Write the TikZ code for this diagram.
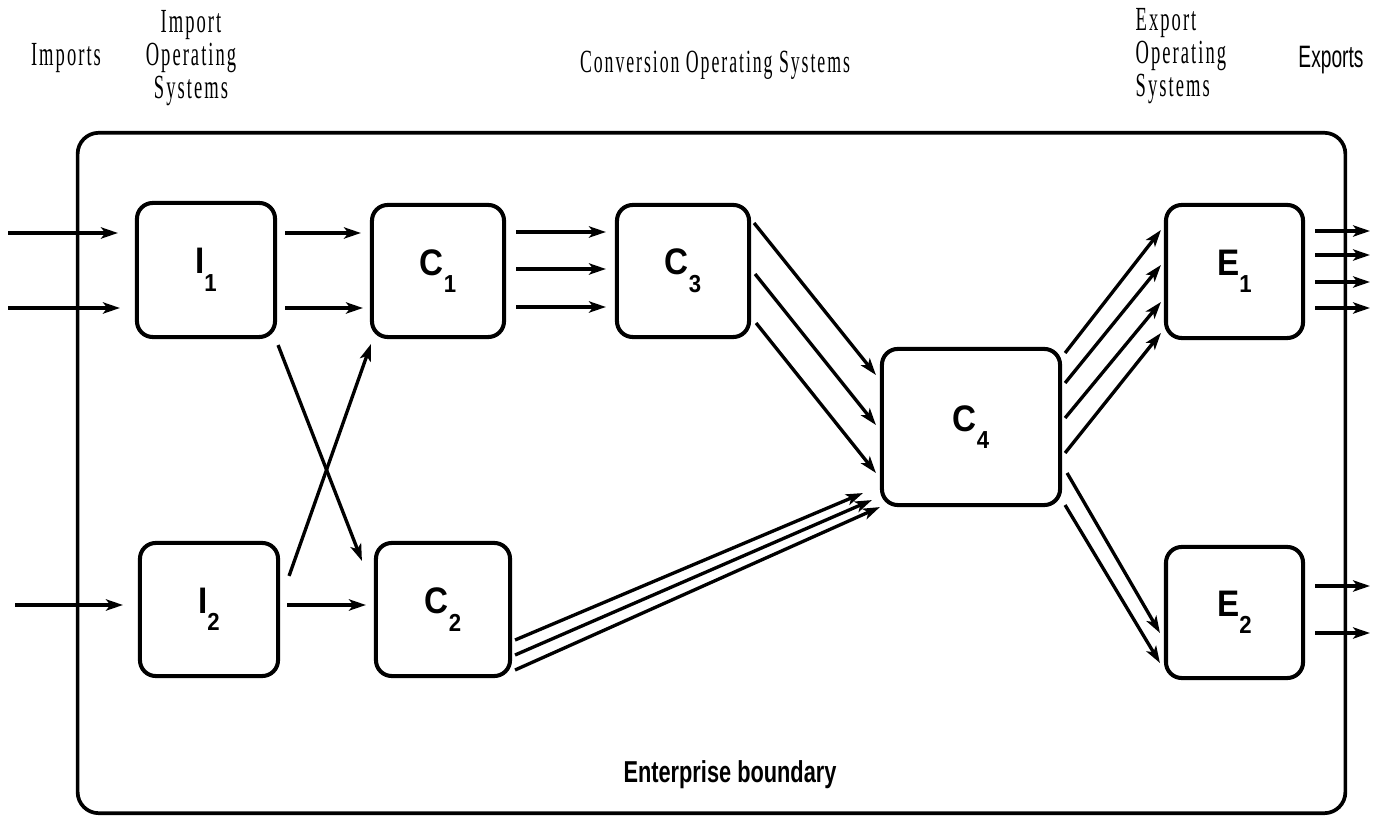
\documentclass[tikz,border=0pt]{standalone}
\usepackage{fontspec}
\setmainfont{Liberation Serif}
\newfontfamily\condserif[FakeStretch=0.55,LetterSpace=6]{Liberation Serif}
\newfontfamily\condsans[FakeStretch=0.62]{Liberation Sans}
\newfontfamily\lblfont[FakeStretch=0.9]{Liberation Sans}
\newfontfamily\entfont[FakeStretch=0.72]{Liberation Sans}
\usetikzlibrary{arrows.meta,calc}
\newcommand{\lbl}[2]{#1\raisebox{-0.9ex}{\fontsize{7}{7}\selectfont #2}\hspace{4pt}}
\begin{document}
\begin{tikzpicture}[x=0.01cm,y=-0.01cm,
  box/.style={draw,line width=1.15pt,rounded corners=4.5pt,inner sep=0pt,
    font=\lblfont\bfseries\fontsize{10.5}{10.5}\selectfont},
  arr/.style={line width=0.95pt,-{Stealth[length=4.8pt,width=3.2pt,inset=1.2pt]}},
  ser/.style={font=\condserif\fontsize{9.6}{9.4}\selectfont,inner sep=0pt},
  sanscond/.style={font=\condsans\fontsize{8.8}{9}\selectfont,inner sep=0pt},
  ent/.style={font=\entfont\bfseries\fontsize{8.6}{9}\selectfont,inner sep=0pt}]
\useasboundingbox (0,0) rectangle (1385,819);
% enterprise boundary
\node[draw,line width=1.05pt,rounded corners=6pt,minimum width=12.67cm,minimum height=6.8cm,inner sep=0pt] (bound) at (711.5,473) {};
% boxes
\node[box,minimum width=1.38cm,minimum height=1.34cm] (I1) at (206,270) {\lbl{I}{1}};
\node[box,minimum width=1.38cm,minimum height=1.33cm] (I2) at (209,609.5) {\lbl{I}{2}};
\node[box,minimum width=1.32cm,minimum height=1.32cm] (C1) at (438,271) {\lbl{C}{1}};
\node[box,minimum width=1.34cm,minimum height=1.33cm] (C2) at (443,609.5) {\lbl{C}{2}};
\node[box,minimum width=1.32cm,minimum height=1.32cm] (C3) at (683,271) {\lbl{C}{3}};
\node[box,minimum width=1.78cm,minimum height=1.56cm] (C4) at (971,427) {\lbl{C}{4}};
\node[box,minimum width=1.37cm,minimum height=1.33cm] (E1) at (1234.5,271.5) {\lbl{E}{1}};
\node[box,minimum width=1.37cm,minimum height=1.31cm] (E2) at (1234.5,612.5) {\lbl{E}{2}};
% texts
\node[ser] (imports) at (66,58) {Imports};
\node[ser,align=center] (ios) at (191,58) {Import\\Operating\\Systems};
\node[ser,font=\condserif\fontsize{9.2}{9.4}\selectfont] (cos) at (715,65) {Conversion Operating Systems};
\node[ser,align=left,anchor=west] (eos) at (1135,56) {Export\\Operating\\Systems};
\node[sanscond] (exports) at (1331,60) {Exports};
\node[ent] (eb) at (730,775) {Enterprise boundary};
% free ends
\coordinate (in1) at (8,233);
\coordinate (in2) at (8,308);
\coordinate (in3) at (15,605);
\coordinate (o1) at (1370,231);
\coordinate (o2) at (1370,255);
\coordinate (o3) at (1370,282);
\coordinate (o4) at (1370,308);
\coordinate (o5) at (1370,586);
\coordinate (o6) at (1370,633);
% imports
\draw[arr] (in1) -- ($(I1.west)+(-17,-37)$);
\draw[arr] (in2) -- ($(I1.west)+(-15,38)$);
\draw[arr] (in3) -- ($(I2.west)+(-15,-4.5)$);
% I -> C
\draw[arr] ($(I1.east)+(8,-37)$) -- ($(C1.west)+(-9,-38)$);
\draw[arr] ($(I1.east)+(8,38)$) -- ($(C1.west)+(-7,37)$);
\draw[arr] ($(I1.south east)+(1,6)$) -- ($(C2.north west)+(-12,20)$);
\draw[arr] ($(I2.north east)+(9,35)$) -- ($(C1.south west)+(1,5)$);
\draw[arr] ($(I2.east)+(7,-4.5)$) -- ($(C2.west)+(-8,-4.5)$);
% C1 -> C3
\draw[arr] ($(C1.east)+(10,-39)$) -- ($(C3.west)+(-9,-39)$);
\draw[arr] ($(C1.east)+(10,-2)$) -- ($(C3.west)+(-9,-2)$);
\draw[arr] ($(C1.east)+(10,36)$) -- ($(C3.west)+(-9,36)$);
% C3 -> C4
\draw[arr] ($(C3.east)+(3,-48)$) -- ($(C4.west)+(-4,-52)$);
\draw[arr] ($(C3.east)+(4,3)$) -- ($(C4.west)+(-4,-2)$);
\draw[arr] ($(C3.east)+(5,52)$) -- ($(C4.west)+(-4,46)$);
% C2 -> C4
\draw[arr] ($(C2.east)+(3,30.5)$) -- ($(C4.south west)+(-17,-14)$);
\draw[arr] ($(C2.east)+(3,45.5)$) -- ($(C4.south west)+(-8,-7)$);
\draw[arr] ($(C2.east)+(3,60.5)$) -- ($(C4.south west)+(0,0)$);
% C4 -> E1
\draw[arr] ($(C4.east)+(3,-74)$) -- ($(E1.west)+(-3,-41.5)$);
\draw[arr] ($(C4.east)+(3,-44)$) -- ($(E1.west)+(-3,-6.5)$);
\draw[arr] ($(C4.east)+(3,-9)$) -- ($(E1.west)+(-3,30.5)$);
\draw[arr] ($(C4.east)+(3,26)$) -- ($(E1.west)+(-3,61.5)$);
% C4 -> E2
\draw[arr] ($(C4.east)+(5,46)$) -- ($(E2.west)+(-4,20.5)$);
\draw[arr] ($(C4.east)+(3,78)$) -- ($(E2.west)+(-4,50.5)$);
% exports
\draw[arr] ($(E1.east)+(10,-40.5)$) -- (o1);
\draw[arr] ($(E1.east)+(10,-16.5)$) -- (o2);
\draw[arr] ($(E1.east)+(10,10.5)$) -- (o3);
\draw[arr] ($(E1.east)+(10,36.5)$) -- (o4);
\draw[arr] ($(E2.east)+(10,-26.5)$) -- (o5);
\draw[arr] ($(E2.east)+(10,20.5)$) -- (o6);
\end{tikzpicture}
\end{document}
